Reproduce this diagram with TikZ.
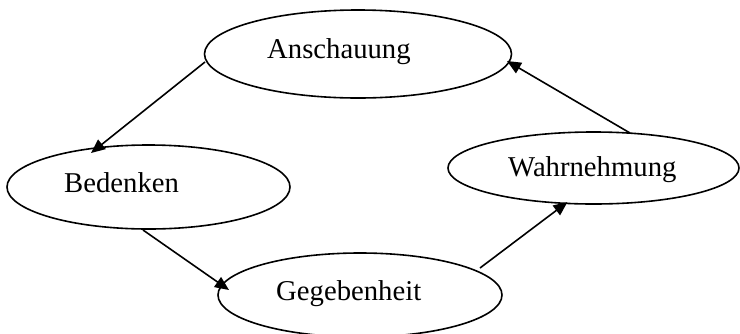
\documentclass[tikz,border=0pt]{standalone}
\usepackage{fontspec}
\setmainfont{Liberation Serif}
\usetikzlibrary{shapes.geometric,arrows.meta,calc}

\tikzset{
  stage/.style={draw=black, line width=1.6pt, ellipse, inner sep=0pt},
  caption/.style={anchor=base west, inner sep=0pt,
                  font=\fontsize{28.7}{34}\selectfont},
  flow/.style={draw=black, line width=1.6pt,
               -{Triangle[length=14pt,width=12pt]}}
}

\begin{document}
\begin{tikzpicture}[x=1pt,y=-1pt]
  \useasboundingbox[fill=white] (0,0) rectangle (740,333);

  % the four stages of the cycle
  \node[stage, minimum width=307pt, minimum height=88pt] (ans) at (358,54) {};
  \node[stage, minimum width=283pt, minimum height=84pt] (bed) at (148.5,187) {};
  \node[stage, minimum width=284pt, minimum height=84pt] (geg) at (360,295) {};
  \node[stage, minimum width=291pt, minimum height=72pt] (wah) at (593.5,168) {};

  % their labels
  \node[caption] (tans) at (267,58) {Anschauung};
  \node[caption] (tbed) at (64,192) {Bedenken};
  \node[caption] (tgeg) at (276,300.5) {Gegebenheit};
  \node[caption] (twah) at (508,176) {Wahrnehmung};

  % the cycle's arrows
  \draw[flow] ($(ans.center)+(-153,8)$) -- ($(bed.center)+(-57.5,-34)$);
  \draw[flow] ($(bed.center)+(-5.5,43)$) -- ($(geg.center)+(-131,-5)$);
  \draw[flow] ($(geg.center)+(120,-27)$) -- ($(wah.center)+(-26,34)$);
  \draw[flow] ($(wah.center)+(36.5,-35)$) -- ($(ans.center)+(149,7)$);
\end{tikzpicture}
\end{document}
